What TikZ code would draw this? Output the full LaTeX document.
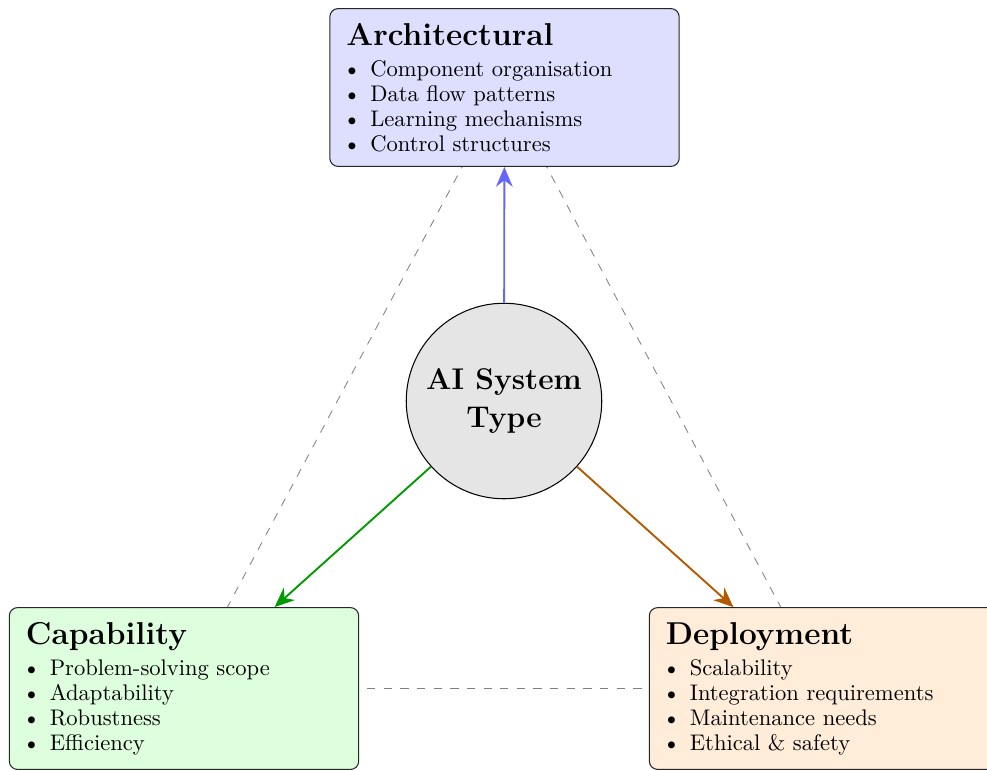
\documentclass[tikz,border=0pt]{standalone}
\usetikzlibrary{arrows.meta,backgrounds}
\newcommand{\bul}{\makebox[11.5pt][l]{\hspace{0.6pt}\raisebox{0.5pt}{\footnotesize$\bullet$}}}
\newcommand{\boxtitle}[1]{{\fontsize{15.2}{18}\selectfont\bfseries #1}}
\tikzset{
  catbox/.style={draw=black!85, line width=0.5pt, rounded corners=4pt, align=left,
    text width=152pt, inner xsep=8pt, inner ysep=7pt, anchor=center,
    font=\fontsize{10.85}{12}\selectfont},
  hub/.style={circle, draw=black, line width=0.5pt, fill=black!10, minimum size=94pt,
    align=center, font=\Large\bfseries, inner sep=0pt},
  link/.style={draw=black!50, line width=0.4pt, dash pattern=on 4pt off 4pt},
  flow/.style={line width=0.9pt, -{Stealth[length=9.5pt,width=8pt]}}
}
\begin{document}
\begin{tikzpicture}[x=0.4808pt,y=-0.4808pt]
\useasboundingbox (0,0) rectangle (987,770);
\node[catbox, fill=blue!13] (arch) at (504.5,87.5) {\boxtitle{Architectural}\\[3pt]
  \bul Component organisation\\
  \bul Data flow patterns\\
  \bul Learning mechanisms\\
  \bul Control structures};
\node[catbox, fill=green!13] (cap) at (184,688.5) {\boxtitle{Capability}\\[3pt]
  \bul Problem-solving scope\\
  \bul Adaptability\\
  \bul Robustness\\
  \bul Efficiency};
\node[catbox, fill=orange!15] (dep) at (824,688.5) {\boxtitle{Deployment}\\[3pt]
  \bul Scalability\\
  \bul Integration requirements\\
  \bul Maintenance needs\\
  \bul Ethical \& safety};
\node[hub] (ai) at (504,401) {AI System\\Type};
\begin{scope}[on background layer]
  \draw[link] (arch.center) -- (cap.center);
  \draw[link] (arch.center) -- (dep.center);
  \draw[link] (cap.center) -- (dep.center);
\end{scope}
\draw[flow, blue!60] (ai) -- (arch);
\draw[flow, green!60!black] (ai) -- (cap);
\draw[flow, orange!70!black] (ai) -- (dep);
\end{tikzpicture}
\end{document}
